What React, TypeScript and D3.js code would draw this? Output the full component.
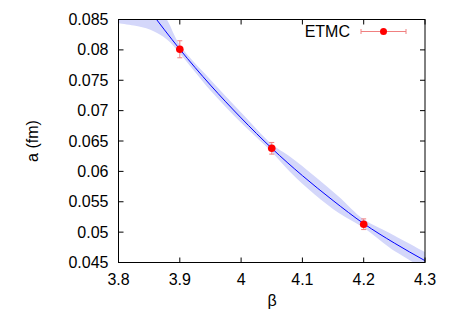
import React from "react";
import * as d3 from "d3";

// fit curve
const fitBeta = [3.8, 3.85, 3.9, 3.95, 4.0, 4.05, 4.1, 4.15, 4.2, 4.25, 4.3];
const fitA = [0.0934, 0.0866, 0.0801, 0.0742, 0.0688, 0.0638, 0.0593, 0.0552, 0.0514, 0.0482, 0.0453];

// error band edges
const upperBeta = [3.8, 3.85, 3.879, 3.9, 3.95, 4.0, 4.05, 4.08, 4.12, 4.16, 4.2, 4.243, 4.3];
const upperA = [0.101, 0.0896, 0.085, 0.0808, 0.0751, 0.0697, 0.0645, 0.0624, 0.0592, 0.0558, 0.0521, 0.0498, 0.0467];
const lowerBeta = [3.8, 3.825, 3.852, 3.879, 3.9, 3.95, 4.0, 4.05, 4.08, 4.12, 4.16, 4.2, 4.243, 4.3];
const lowerA = [0.0844, 0.084, 0.0833, 0.0817, 0.0794, 0.0733, 0.068, 0.0632, 0.0599, 0.0562, 0.0531, 0.0507, 0.0474, 0.0439];

// ETMC data points
const dataBeta = [3.9, 4.05, 4.2];
const dataA = [0.0801, 0.0638, 0.0513];
const dataErr = [0.0014, 0.00096, 0.00088];

const xTicks = [3.8, 3.9, 4.0, 4.1, 4.2, 4.3];
const yTicks = [0.045, 0.05, 0.055, 0.06, 0.065, 0.07, 0.075, 0.08, 0.085];

const W = 450, H = 315;
const L = 118.5, R = 425, T = 19.5, B = 262.5;

export default function App() {
  const x = d3.scaleLinear().domain([3.8, 4.3]).range([L, R]);
  const y = d3.scaleLinear().domain([0.045, 0.085]).range([B, T]);

  const fitLine = d3.line<number>()
    .x((d, i) => x(fitBeta[i]))
    .y(d => y(d))
    .curve(d3.curveMonotoneX)(fitA);

  const upperPts: [number, number][] = upperBeta.map((b, i) => [x(b), y(upperA[i])]);
  const lowerPts: [number, number][] = lowerBeta.map((b, i) => [x(b), y(lowerA[i])]);
  const up = d3.line().curve(d3.curveCatmullRom.alpha(0.5))(upperPts) || "";
  const lowRev = d3.line().curve(d3.curveCatmullRom.alpha(0.5))(lowerPts.slice().reverse()) || "";
  const bandPath = up + "L" + lowRev.slice(1) + "Z";

  const font = "'Liberation Sans', Arial, sans-serif";
  const tick = 5;
  const errColor = "#f08080";

  return (
    <svg width={W} height={H} style={{ position: "absolute", left: 0, top: 0, background: "#fff" }}
      fontFamily={font}>
      <defs>
        <clipPath id="plot">
          <rect x={L} y={T} width={R - L} height={B - T} />
        </clipPath>
      </defs>
      <g clipPath="url(#plot)">
        <path d={bandPath} fill="#d4d7fa" stroke="none" />
        <path d={fitLine || ""} fill="none" stroke="#0000ff" strokeWidth={1} />
      </g>

      {/* ticks, mirrored on all sides */}
      {xTicks.map(t => (
        <g key={"x" + t}>
          <line x1={x(t)} x2={x(t)} y1={B} y2={B - tick} stroke="#000" />
          <line x1={x(t)} x2={x(t)} y1={T} y2={T + tick} stroke="#000" />
          <text x={x(t)} y={285} fontSize={16} textAnchor="middle">{d3.format("")(t)}</text>
        </g>
      ))}
      {yTicks.map(t => (
        <g key={"y" + t}>
          <line x1={L} x2={L + tick} y1={y(t)} y2={y(t)} stroke="#000" />
          <line x1={R} x2={R - tick} y1={y(t)} y2={y(t)} stroke="#000" />
          <text x={108.5} y={y(t) + 5.5} fontSize={16} textAnchor="end">{d3.format("")(t)}</text>
        </g>
      ))}
      <rect x={L} y={T} width={R - L} height={B - T} fill="none" stroke="#000" strokeWidth={1} />

      {/* data with error bars */}
      {dataBeta.map((b, i) => {
        const cx = x(b), y0 = y(dataA[i] - dataErr[i]), y1 = y(dataA[i] + dataErr[i]);
        return (
          <g key={"d" + i}>
            <line x1={cx} x2={cx} y1={y0} y2={y1} stroke={errColor} />
            <line x1={cx - 2.5} x2={cx + 2.5} y1={y0} y2={y0} stroke={errColor} />
            <line x1={cx - 2.5} x2={cx + 2.5} y1={y1} y2={y1} stroke={errColor} />
            <circle cx={cx} cy={y(dataA[i])} r={3.8} fill="#ff0000" />
          </g>
        );
      })}

      {/* legend */}
      <text x={350} y={37} fontSize={16} textAnchor="end">ETMC</text>
      <line x1={361} x2={406} y1={31.5} y2={31.5} stroke={errColor} />
      <line x1={361} x2={361} y1={29} y2={34} stroke={errColor} />
      <line x1={406} x2={406} y1={29} y2={34} stroke={errColor} />
      <circle cx={383.5} cy={31.5} r={3.5} fill="#ff0000" />

      {/* axis titles */}
      <text x={272} y={306} fontSize={16} textAnchor="middle">β</text>
      <text transform={`translate(38,141) rotate(-90)`} fontSize={16} textAnchor="middle">a (fm)</text>
    </svg>
  );
}
